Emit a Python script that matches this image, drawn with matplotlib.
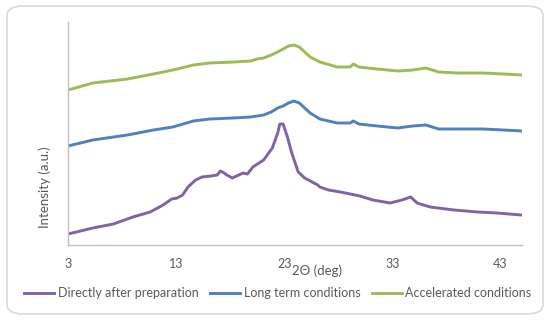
import numpy as np
import matplotlib.pyplot as plt
from matplotlib.patches import FancyBboxPatch

# 2Theta (deg) and intensity (a.u.)
x_prep = [3.0, 5.3, 7.2, 9.0, 10.6, 11.8, 12.6, 13.1, 13.6, 14.1, 14.8, 15.4, 16.2,
          16.8, 17.1, 17.3, 17.7, 18.2, 19.2, 19.6, 20.1, 21.1, 21.9, 22.4, 22.6,
          22.9, 23.3, 23.7, 24.3, 24.9, 26.1, 26.3, 27.1, 28.2, 30.0, 31.2, 32.8,
          33.9, 34.7, 35.3, 36.5, 38.7, 40.9, 42.7, 44.9]
y_prep = [11, 17, 21, 28, 33, 40, 46, 47, 50, 58, 65, 68, 69,
          70, 74, 73, 70, 67, 72, 71, 78, 85, 97, 112, 121,
          121, 108, 92, 73, 67, 60, 58, 55, 53, 49, 45, 42,
          45, 48, 42, 38, 35, 33, 32, 30]

x_cond = [3.0, 5.3, 8.5, 10.9, 12.7, 14.6, 16.1, 18.3, 19.9, 20.5, 21.1, 21.8, 22.4,
          22.9, 23.4, 23.9, 24.4, 24.9, 25.4, 26.3, 27.9, 29.1, 29.4, 29.9, 31.6,
          33.5, 34.9, 36.1, 37.3, 39.0, 41.4, 43.3, 45.0]
y_long = [99, 105, 110, 115, 118, 124, 126, 127, 128, 129, 130, 133, 137,
          139, 142, 144, 142, 137, 132, 126, 122, 122, 124, 121, 119,
          117, 119, 120, 116, 116, 116, 115, 114]
y_acc = [155, 162, 166, 171, 175, 180, 182, 183, 184, 186, 187, 190, 193,
         196, 199, 200, 198, 193, 188, 183, 178, 178, 181, 178, 176,
         174, 175, 177, 173, 172, 172, 171, 170]

xticks = [3, 13, 23, 33, 43]
labels = ['Directly after preparation', 'Long term conditions', 'Accelerated conditions']
colores = ['#8064A2', '#4F81BD', '#9BBB59']

plt.rcParams['font.family'] = ['Lato', 'DejaVu Sans']

fig = plt.figure(figsize=(5.5, 3.2), dpi=100)
fig.patches.append(FancyBboxPatch((7 / 550, 6 / 320), 536 / 550, 308 / 320,
                                  boxstyle='round,pad=0,rounding_size=0.03',
                                  transform=fig.transFigure, fc='white',
                                  ec='#D9D9D9', lw=1.2, zorder=-1))

ax = fig.add_axes([68 / 550, 75 / 320, 454 / 550, 223 / 320])
ax.set_facecolor('none')

ax.plot(x_prep, y_prep, color=colores[0], lw=2.1, label=labels[0])
ax.plot(x_cond, y_long, color=colores[1], lw=2.1, label=labels[1])
ax.plot(x_cond, y_acc, color=colores[2], lw=2.1, label=labels[2])

ax.set_xlim(3, 45)
ax.set_ylim(0, 223)
ax.set_xticks(xticks)
ax.set_yticks([])
ax.tick_params(axis='x', length=0, pad=9, labelsize=9, labelcolor='#595959')
for s in ['top', 'right']:
    ax.spines[s].set_visible(False)
for s in ['left', 'bottom']:
    ax.spines[s].set_color('#BFBFBF')
    ax.spines[s].set_linewidth(1.0)

fig.text(317 / 550, 49 / 320, '2Θ (deg)', ha='center', va='center',
         fontsize=9.5, color='#595959')
fig.text(45 / 550, 133 / 320, 'Intensity (a.u.)', ha='center', va='center',
         rotation=90, fontsize=9.5, color='#595959')

leg = fig.legend(loc='center', bbox_to_anchor=(0.505, 27 / 320), ncol=3, frameon=False,
                 handlelength=2.4, handletextpad=0.3, columnspacing=0.9,
                 fontsize=9)
for t in leg.get_texts():
    t.set_color('#595959')

plt.savefig('out.png', dpi=100)
